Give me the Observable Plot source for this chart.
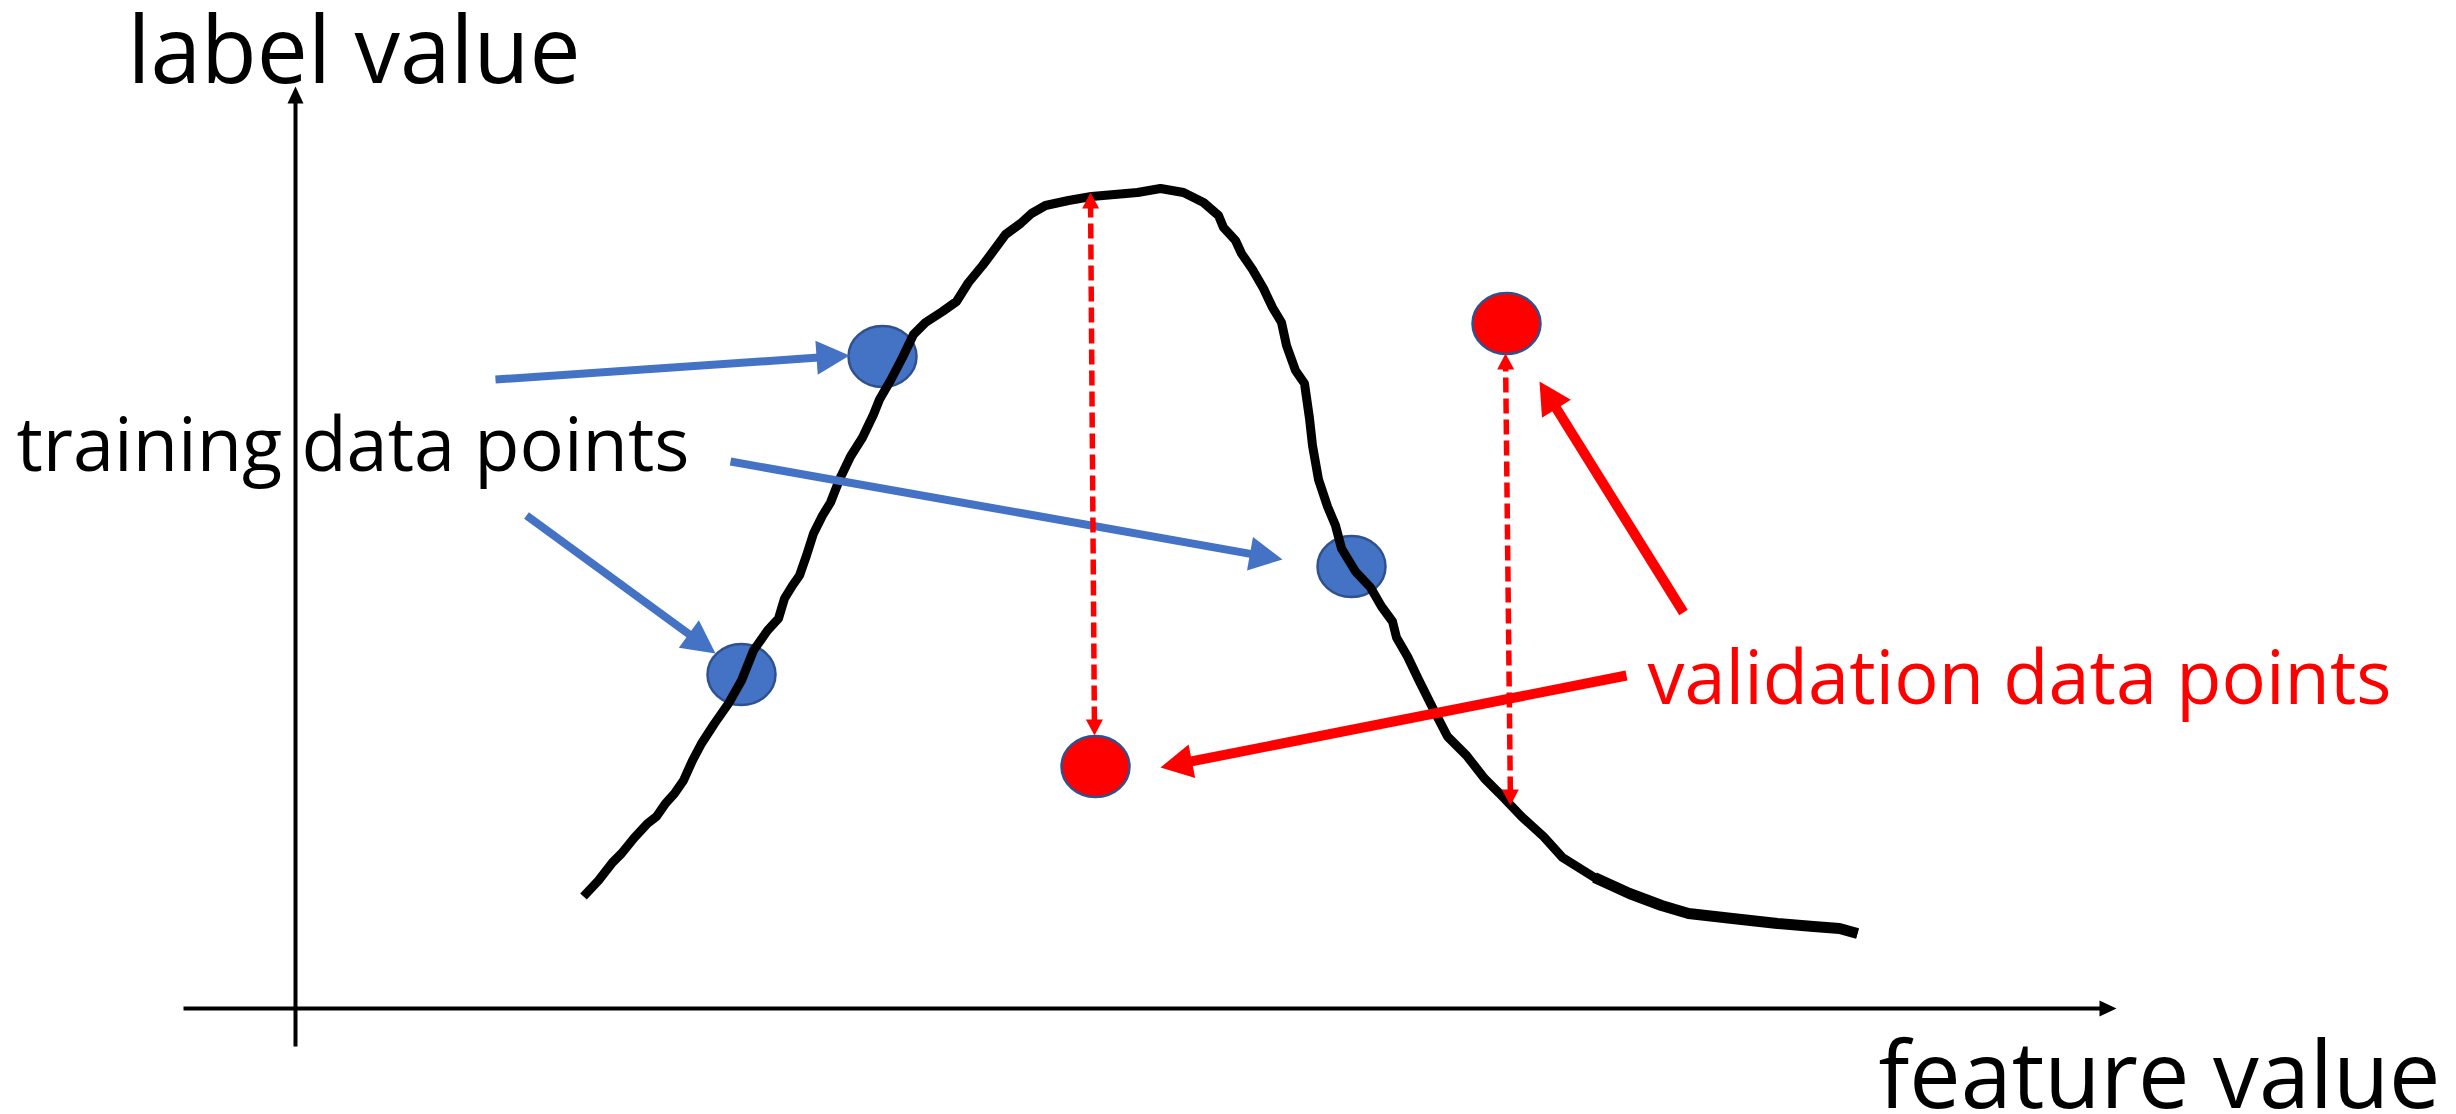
<!DOCTYPE html>
<html>
<head>
<meta charset="utf-8">
<script src="https://cdn.jsdelivr.net/npm/d3@7"></script>
<script src="https://cdn.jsdelivr.net/npm/@observablehq/plot@0.6"></script>
<style>
  html, body { margin: 0; padding: 0; background: #fff; overflow: hidden; }
  #chart svg { display: block; overflow: visible; }
</style>
</head>
<body>
<div id="chart"></div>
<script>
// ---------------- data (in abstract feature / label units) ----------------
const curveX = [2.88,3.03,3.17,3.26,3.39,3.52,3.61,3.70,3.79,3.88,3.97,4.06,4.19,4.33,4.46,4.58,4.72,4.83,4.89,4.97,5.04,5.11,5.18,5.27,5.35,5.44,5.55,5.67,5.78,5.84,5.95,6.07,6.18,6.30,6.47,6.61,6.73,6.87,6.96,7.10,7.25,7.36,7.50,7.73,7.96,8.42,8.65,8.88,9.08,9.23,9.28,9.40,9.46,9.57,9.68,9.77,9.86,9.91,10.00,10.09,10.14,10.17,10.23,10.32,10.40,10.46,10.60,10.75,10.86,10.97,11.01,11.12,11.23,11.38,11.52,11.71,11.89,12.04,12.26,12.48,12.67,12.99,13.34,13.66,13.93,14.37,14.82,15.18,15.44,15.62];
const curveY = [1.12,1.28,1.46,1.55,1.71,1.85,1.92,2.05,2.15,2.28,2.48,2.65,2.85,3.05,3.28,3.58,3.78,3.90,4.10,4.23,4.33,4.53,4.75,4.93,5.06,5.29,5.52,5.71,5.94,6.09,6.28,6.51,6.74,6.86,6.97,7.07,7.26,7.43,7.55,7.74,7.85,7.95,8.03,8.08,8.12,8.16,8.20,8.16,8.06,7.93,7.81,7.68,7.55,7.39,7.20,7.01,6.86,6.63,6.38,6.25,5.90,5.63,5.29,5.02,4.83,4.60,4.37,4.21,4.02,3.87,3.71,3.52,3.29,2.99,2.72,2.53,2.30,2.15,1.92,1.72,1.51,1.31,1.15,1.03,0.95,0.90,0.85,0.82,0.80,0.75];

const trainX = [5.87, 10.56, 4.46];
const trainY = [6.52, 4.42, 3.34];
const validX = [8.00, 12.11];
const validY = [2.42, 6.85];

// arrows from the "training data points" label to the training points
const trainArrowX1 = [2.00, 4.35, 2.31];
const trainArrowY1 = [6.29, 5.47, 4.93];
const trainArrowX2 = [5.54, 9.87, 4.20];
const trainArrowY2 = [6.53, 4.49, 3.55];

// arrows from the "validation data points" label to the validation points
const validArrowX1 = [13.31, 13.88];
const validArrowY1 = [3.33, 3.96];
const validArrowX2 = [8.65, 12.44];
const validArrowY2 = [2.41, 6.27];

// dashed double-headed error arrows (curve <-> validation point)
const errorX1 = [7.99, 12.15];
const errorY1 = [2.73, 2.03];
const errorX2 = [7.95, 12.10];
const errorY2 = [8.16, 6.55];

// axes (from -> to)
const axisX1 = [-1.12, 0];
const axisY1 = [0, -0.38];
const axisX2 = [18.21, 0];
const axisY2 = [0, 9.22];

// text labels: start and end along x, baseline y
const labelText = ["label value", "training data points", "validation data points", "feature value"];
const labelX1 = [-1.68, -2.79, 13.52, 15.83];
const labelX2 = [2.85, 3.94, 20.96, 21.45];
const labelY  = [9.26, 5.38, 3.05, -0.99];

// ---------------- layout & style ----------------
const W = 2456, H = 1114;
const xDomain = [-2.95, 21.61], yDomain = [-1.06, 10.08];
const unit = W / (xDomain[1] - xDomain[0]); // px per data unit
const BLUE = "#4472C4", OUTLINE = "#2F528F", RED = "#FF0000";
const FONT = "'Open Sans', 'Noto Sans', sans-serif";
const labelStyle = [
  {size: 93, color: "#000"},
  {size: 75, color: "#000"},
  {size: 75, color: RED},
  {size: 93, color: "#000"}
];

// ellipse symbol (slightly wider than tall)
const ellipse = {
  draw(ctx, size) {
    const r = Math.sqrt(size / Math.PI), rx = r * 1.115, ry = r, k = 0.5523;
    ctx.moveTo(rx, 0);
    ctx.bezierCurveTo(rx, ry * k, rx * k, ry, 0, ry);
    ctx.bezierCurveTo(-rx * k, ry, -rx, ry * k, -rx, 0);
    ctx.bezierCurveTo(-rx, -ry * k, -rx * k, -ry, 0, -ry);
    ctx.bezierCurveTo(rx * k, -ry, rx, -ry * k, rx, 0);
    ctx.closePath();
  }
};

// build arrow geometry (shaft trimmed at head base, filled triangular head)
function arrows(x1, y1, x2, y2, headLen, headHalf, both) {
  const shafts = [], heads = [];
  const L = headLen / unit, Hh = headHalf / unit, trim = (headLen - 2) / unit;
  const tri = (id, tx, ty, ux, uy) => {
    const bx = tx - ux * L, by = ty - uy * L, nx = -uy, ny = ux;
    heads.push({id, x: tx, y: ty}, {id, x: bx + nx * Hh, y: by + ny * Hh}, {id, x: bx - nx * Hh, y: by - ny * Hh});
  };
  for (let i = 0; i < x1.length; i++) {
    const dx = x2[i] - x1[i], dy = y2[i] - y1[i], n = Math.hypot(dx, dy);
    const ux = dx / n, uy = dy / n;
    let sx = x1[i], sy = y1[i];
    if (both) { sx += ux * trim; sy += uy * trim; tri(i + "a", x1[i], y1[i], -ux, -uy); }
    tri(i + "b", x2[i], y2[i], ux, uy);
    shafts.push({x1: sx, y1: sy, x2: x2[i] - ux * trim, y2: y2[i] - uy * trim});
  }
  return {shafts, heads};
}

const axes = arrows(axisX1, axisY1, axisX2, axisY2, 17, 8, false);
const trainA = arrows(trainArrowX1, trainArrowY1, trainArrowX2, trainArrowY2, 33, 17, false);
const validA = arrows(validArrowX1, validArrowY1, validArrowX2, validArrowY2, 32, 17, false);
const errA = arrows(errorX1, errorY1, errorX2, errorY2, 16, 8.5, true);

const curve = curveX.map((x, i) => ({x, y: curveY[i], i}));
const train = trainX.map((x, i) => ({x, y: trainY[i]}));
const valid = validX.map((x, i) => ({x, y: validY[i]}));
const labels = labelText.map((t, i) => ({text: t, x: labelX1[i], x2: labelX2[i], y: labelY[i]}));

const shaft = (a, opts) => Plot.link(a.shafts, {x1: "x1", y1: "y1", x2: "x2", y2: "y2", strokeLinecap: "butt", ...opts});
const head = (a, color) => Plot.line(a.heads, {x: "x", y: "y", z: "id", fill: color, stroke: "none", strokeWidth: 0, curve: "linear-closed"});

const plot = Plot.plot({
  width: W,
  height: H,
  margin: 0,
  x: {domain: xDomain, axis: null},
  y: {domain: yDomain, axis: null},
  style: {background: "#fff"},
  marks: [
    shaft(axes, {stroke: "#000", strokeWidth: 4}),
    head(axes, "#000"),
    Plot.dot(train, {x: "x", y: "y", r: 30.5, symbol: ellipse, fill: BLUE, stroke: OUTLINE, strokeWidth: 2.5}),
    Plot.dot(valid, {x: "x", y: "y", r: 30.5, symbol: ellipse, fill: RED, stroke: OUTLINE, strokeWidth: 2.5}),
    Plot.line(curve, {x: "x", y: "y", stroke: "#000", strokeWidth: 9, strokeLinejoin: "round", strokeLinecap: "butt"}),
    Plot.line(curve.filter(d => d.i >= 81), {x: "x", y: "y", stroke: "#000", strokeWidth: 11, strokeLinejoin: "round", strokeLinecap: "butt"}),
    shaft(trainA, {stroke: BLUE, strokeWidth: 8}),
    head(trainA, BLUE),
    shaft(validA, {stroke: RED, strokeWidth: 10}),
    head(validA, RED),
    shaft(errA, {stroke: RED, strokeWidth: 5.5, strokeDasharray: "15,6"}),
    head(errA, RED),
    ...labels.map((d, i) => Plot.text([d], {
      x: "x", y: "y", text: "text", textAnchor: "start", lineAnchor: "middle",
      dy: -0.32 * labelStyle[i].size, fontSize: labelStyle[i].size,
      fontFamily: FONT, fill: labelStyle[i].color
    }))
  ]
});

// fit each label exactly between its start and end positions
const xs = plot.scale("x");
plot.querySelectorAll("text").forEach(t => {
  const i = labelText.indexOf(t.textContent);
  if (i < 0) return;
  const len = xs.apply(labelX2[i]) - xs.apply(labelX1[i]);
  t.setAttribute("textLength", len.toFixed(1));
  t.setAttribute("lengthAdjust", "spacingAndGlyphs");
});

document.getElementById("chart").appendChild(plot);
</script>
</body>
</html>
